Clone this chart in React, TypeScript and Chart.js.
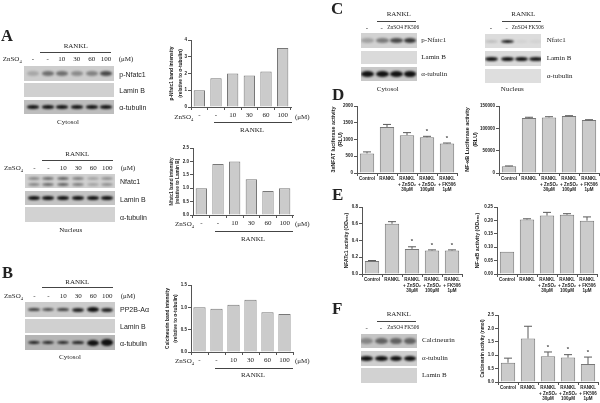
import React, { useEffect, useRef } from "react";
import { Chart, registerables } from "chart.js";

Chart.register(...registerables);

const doseLabels = ["-", "-", "10", "30", "60", "100"];
const treatLabels = [
  ["Control"],
  ["RANKL"],
  ["RANKL", "+ ZnSO\u2082", "30\u03BCM"],
  ["RANKL", "+ ZnSO\u2082", "100\u03BCM"],
  ["RANKL", "+ FK506", "1\u03BCM"],
];

const pNfatcValues = [1.0, 1.72, 2.0, 1.88, 2.12, 3.52];
const nfatcValues = [1.0, 1.9, 2.0, 1.33, 0.9, 1.0];
const calcBandValues = [1.0, 0.97, 1.06, 1.17, 0.89, 0.85];

const nfatLucValues = [585, 1375, 1130, 1065, 880];
const nfatLucErr = [45, 75, 75, 30, 15];
const nfatLucStars = [false, false, false, true, true];

const nfkbLucValues = [15000, 123000, 124500, 127500, 118500];
const nfkbLucErr = [800, 1800, 1500, 800, 800];

const nfatcActValues = [0.155, 0.6, 0.3, 0.28, 0.28];
const nfatcActErr = [0.006, 0.025, 0.025, 0.008, 0.008];
const nfatcActStars = [false, false, true, true, true];

const nfkbActValues = [0.083, 0.203, 0.218, 0.221, 0.199];
const nfkbActErr = [0, 0.003, 0.012, 0.004, 0.014];

const calcActValues = [0.72, 1.62, 0.96, 0.91, 0.67];
const calcActErr = [0.17, 0.46, 0.16, 0.11, 0.26];
const calcActStars = [false, false, true, true, true];

const SANS = "'Liberation Sans', Arial, sans-serif";
const SERIF = "'Liberation Serif', 'Times New Roman', serif";

type Spec = {
  left: number; top: number; w: number; h: number; margin: number;
  labels: any[]; values: number[]; err?: number[]; stars?: boolean[];
  max: number; step: number; decimals: number;
  title: string | string[]; titleSize: number; titleLH: number; barFrac: number; serifX?: boolean;
};

const specs: Spec[] = [
  { left: 191, top: 40, w: 100, h: 67, margin: 23, labels: doseLabels, values: pNfatcValues, max: 4, step: 1, decimals: 0, title: ["p-Nfatc1 band intensity", "(relative to \u03B1-tubulin)"], titleSize: 4.9, titleLH: 8.3, barFrac: 0.68, serifX: true },
  { left: 193, top: 148, w: 100, h: 67, margin: 25, labels: doseLabels, values: nfatcValues, max: 2.5, step: 0.5, decimals: 1, title: ["Nfatc1 band intensity", "(relative to Lamin B)"], titleSize: 4.75, titleLH: 6.7, barFrac: 0.68, serifX: true },
  { left: 191, top: 285, w: 102, h: 67, margin: 27, labels: doseLabels, values: calcBandValues, max: 1.5, step: 0.5, decimals: 1, title: ["Calcineurin band intensity", "(relative to \u03B1-tubulin)"], titleSize: 4.87, titleLH: 7.7, barFrac: 0.72, serifX: true },
  { left: 357, top: 106, w: 100, h: 67, margin: 27, labels: treatLabels, values: nfatLucValues, err: nfatLucErr, stars: nfatLucStars, max: 2000, step: 500, decimals: 0, title: ["3xNFAT luciferase activity", "(RLU)"], titleSize: 5.36, titleLH: 7, barFrac: 0.72 },
  { left: 499, top: 106, w: 100, h: 67, margin: 35, labels: treatLabels, values: nfkbLucValues, err: nfkbLucErr, max: 150000, step: 50000, decimals: 0, title: ["NF-\u03BAB Luciferase activity", "(RLU)"], titleSize: 5.4, titleLH: 7.7, barFrac: 0.72 },
  { left: 362, top: 207, w: 100, h: 67, margin: 19, labels: treatLabels, values: nfatcActValues, err: nfatcActErr, stars: nfatcActStars, max: 0.8, step: 0.2, decimals: 1, title: "NFATc1 activity (OD\u2086\u2085\u2080)", titleSize: 5, titleLH: 6.5, barFrac: 0.72 },
  { left: 497, top: 207, w: 100, h: 67, margin: 23, labels: treatLabels, values: nfkbActValues, err: nfkbActErr, max: 0.25, step: 0.05, decimals: 2, title: "NF-\u03BAB activity (OD\u2086\u2085\u2080)", titleSize: 5.3, titleLH: 6.5, barFrac: 0.72 },
  { left: 498, top: 315, w: 100, h: 67, margin: 19, labels: treatLabels, values: calcActValues, err: calcActErr, stars: calcActStars, max: 2.5, step: 0.5, decimals: 1, title: "Calcineurin activity (nmol)", titleSize: 4.65, titleLH: 6.5, barFrac: 0.72 },
];

const PAD_TOP = 6;
const PAD_RIGHT = 2;
const BOTTOM = 30;

const whiskers = {
  id: "whiskers",
  afterDatasetsDraw(chart: any, _a: any, opts: any) {
    const { ctx } = chart;
    const y = chart.scales.y;
    const meta = chart.getDatasetMeta(0);
    const vals: number[] = chart.data.datasets[0].data;
    ctx.save();
    meta.data.forEach((bar: any, i: number) => {
      const e = opts.err ? opts.err[i] : 0;
      const topVal = vals[i] + e;
      const py = y.getPixelForValue(topVal);
      if (e) {
        ctx.strokeStyle = "#5a5a5a";
        ctx.lineWidth = 1;
        ctx.beginPath();
        ctx.moveTo(bar.x, y.getPixelForValue(vals[i]));
        ctx.lineTo(bar.x, py);
        ctx.moveTo(bar.x - 4, py);
        ctx.lineTo(bar.x + 4, py);
        ctx.stroke();
      }
      if (opts.stars && opts.stars[i]) {
        ctx.fillStyle = "#444";
        ctx.font = `bold 6px ${SANS}`;
        ctx.textAlign = "center";
        ctx.textBaseline = "middle";
        ctx.fillText("*", bar.x, py - 5);
      }
    });
    ctx.restore();
  },
};

function BarPanel({ s }: { s: Spec }) {
  const ref = useRef<HTMLCanvasElement>(null);
  useEffect(() => {
    const chart = new Chart(ref.current!, {
      type: "bar",
      data: {
        labels: s.labels,
        datasets: [{
          data: s.values,
          backgroundColor: "#cbcbcb",
          borderColor: "#777",
          borderWidth: 1,
          categoryPercentage: 1,
          barPercentage: s.barFrac,
        }],
      },
      plugins: [whiskers],
      options: {
        animation: false,
        responsive: false,
        layout: { padding: { top: PAD_TOP, right: PAD_RIGHT, left: 0, bottom: 0 } },
        plugins: {
          legend: { display: false },
          tooltip: { enabled: false },
          whiskers: { err: s.err, stars: s.stars },
        } as any,
        scales: {
          x: {
            afterFit: (sc: any) => { sc.height = BOTTOM; },
            border: { color: "#555", width: 1 },
            grid: { drawOnChartArea: false, drawTicks: true, tickLength: 3, color: "#555" },
            ticks: s.serifX
              ? { color: "#222", font: { family: SERIF, size: 7 }, padding: 1, autoSkip: false, maxRotation: 0 }
              : { color: "#222", font: { family: SANS, size: 4.5, weight: "bold", lineHeight: "5.7px" }, padding: 0, autoSkip: false, maxRotation: 0 },
          },
          y: {
            min: 0,
            max: s.max,
            afterFit: (sc: any) => { sc.width = s.margin; },
            border: { color: "#555", width: 1 },
            grid: { drawOnChartArea: false, drawTicks: true, tickLength: 3, color: "#555" },
            ticks: {
              stepSize: s.step,
              color: "#222",
              padding: 1,
              font: { family: SANS, size: 4.5, weight: "bold" },
              callback: (v: any) => Number(v).toFixed(s.decimals),
            },
            title: {
              display: true,
              text: s.title,
              color: "#222",
              padding: 0,
              font: { family: SANS, size: s.titleSize, weight: "bold", lineHeight: `${s.titleLH}px` },
            },
          },
        },
      } as any,
    });
    return () => chart.destroy();
  }, [s]);
  return (
    <canvas
      ref={ref}
      width={s.margin + s.w + PAD_RIGHT}
      height={PAD_TOP + s.h + BOTTOM}
      style={{ position: "absolute", left: s.left - s.margin, top: s.top - PAD_TOP, display: "block" }}
    />
  );
}

type Txt = [string, number, number, "l" | "c", number?, string?, string?];

// [text, x, centre y, anchor, size, family, weight]
const texts: Txt[] = [
  ["A", 1, 35.5, "l", 16.5, SERIF, "bold"], ["B", 2, 272.5, "l", 16.5, SERIF, "bold"],
  ["C", 331, 7.5, "l", 17, SERIF, "bold"], ["D", 332, 93.5, "l", 17, SERIF, "bold"],
  ["E", 332, 193.5, "l", 17, SERIF, "bold"], ["F", 332, 307.5, "l", 17, SERIF, "bold"],
  ["RANKL", 75.7, 46, "c"], ["(\u03BCM)", 118.7, 59.3, "l"],
  ["p-Nfatc1", 119.3, 73.7, "l", 7, SANS], ["Lamin B", 119.3, 90.3, "l", 7, SANS], ["\u03B1-tubulin", 119.3, 107, "l", 7, SANS],
  ["Cytosol", 68, 121.7, "c"], ["RANKL", 252, 130, "c"], ["(\u03BCM)", 295, 116.7, "l"],
  ["RANKL", 77.3, 154, "c"], ["(\u03BCM)", 120.7, 168.3, "l"],
  ["Nfatc1", 120, 181, "l", 7, SANS], ["Lamin B", 120, 198.7, "l", 7, SANS], ["\u03B1-tubulin", 120, 216.7, "l", 7, SANS],
  ["Nucleus", 70.7, 229.7, "c"], ["RANKL", 253, 238.7, "c"], ["(\u03BCM)", 295, 224.3, "l"],
  ["RANKL", 77.3, 282, "c"], ["(\u03BCM)", 120.7, 296, "l"],
  ["PP2B-A\u03B1", 120, 309, "l", 7, SANS], ["Lamin B", 120, 326, "l", 7, SANS], ["\u03B1-tubulin", 120, 343, "l", 7, SANS],
  ["Cytosol", 70, 357.3, "c"], ["RANKL", 253, 375, "c"], ["(\u03BCM)", 295, 361.3, "l"],
  ["RANKL", 398.7, 13.7, "c"], ["ZnSO4 FK506", 387.3, 27.7, "l", 5.4],
  ["p-Nfatc1", 421.3, 40.3, "l"], ["Lamin B", 421.3, 57.3, "l"], ["\u03B1-tubulin", 421.3, 74.3, "l"], ["Cytosol", 387.7, 89.3, "c"],
  ["RANKL", 523.3, 13.7, "c"], ["ZnSO4 FK506", 511.7, 27.7, "l", 5.4],
  ["Nfatc1", 546.7, 40, "l"], ["Lamin B", 546.7, 58, "l"], ["\u03B1-tubulin", 546.7, 76, "l"], ["Nucleus", 512.3, 89.3, "c"],
  ["RANKL", 398.7, 314.3, "c"], ["ZnSO4 FK506", 387.3, 328.3, "l", 5.4],
  ["Calcineurin", 422, 340.3, "l"], ["\u03B1-tubulin", 422, 358, "l"], ["Lamin B", 422, 375.3, "l"],
  ["-", 367, 27.7, "c"], ["-", 381.7, 27.7, "c"], ["-", 491, 27.7, "c"], ["-", 506.7, 27.7, "c"],
  ["-", 366.7, 328.3, "c"], ["-", 381, 328.3, "c"],
];

const doseRows: [number[], number][] = [
  [[33, 47.7, 61.7, 76.7, 91.7, 106], 59.3],
  [[34.3, 48.3, 63.3, 78.3, 93.3, 107.3], 168.3],
  [[34.3, 48.3, 63.3, 78.3, 93.3, 107.3], 296],
];

const znso4Labels: [number, number][] = [[2.7, 59.3], [4, 168.3], [4, 296], [174.3, 116.7], [175, 224.3], [175, 361.3]];

const rules: [number, number, number][] = [
  [40, 111, 51.7], [41.7, 112.7, 159.7], [41.7, 112.7, 287.3],
  [214, 291.7, 122.3], [215.3, 292.7, 231], [215, 292.7, 367.7],
  [377.3, 416, 20.7], [502, 540.7, 20.7], [377.3, 415.7, 321],
];

type Strip = { x: number; w: number; y: number; h: number; bg: string; lanes: number[]; bands: number[]; bh?: number | number[]; rows?: number[] };

const lanesA = [33, 47.7, 61.7, 76.7, 91.7, 106];
const lanesB = [34.3, 48.3, 63.3, 78.3, 93.3, 107.3];
const lanesC = [367.3, 382.3, 396.7, 410];
const lanesCR = [491.7, 507.3, 521.7, 536];
const lanesF = [366.7, 381.7, 396, 410];

const strips: Strip[] = [
  { x: 24, w: 90, y: 66, h: 15, bg: "#cdcdcd", lanes: lanesA, bands: [0.2, 0.5, 0.5, 0.35, 0.4, 0.7], bh: 4.5 },
  { x: 24, w: 90, y: 83, h: 14, bg: "#d0d0d0", lanes: [], bands: [] },
  { x: 24, w: 90, y: 100, h: 14, bg: "#bdbdbd", lanes: lanesA, bands: [1, 1, 1, 1, 1, 1], bh: 3.5 },
  { x: 25, w: 90, y: 174, h: 14, bg: "#d0d0d0", lanes: lanesB, bands: [0.4, 0.55, 0.6, 0.45, 0.25, 0.35], bh: 3, rows: [-3, 3] },
  { x: 25, w: 90, y: 191, h: 14, bg: "#c4c4c4", lanes: lanesB, bands: [1, 1, 1, 1, 1, 1], bh: 3.5 },
  { x: 25, w: 90, y: 207, h: 15, bg: "#d2d2d2", lanes: [], bands: [] },
  { x: 25, w: 90, y: 302, h: 15, bg: "#cbcbcb", lanes: lanesB, bands: [0.75, 0.7, 0.75, 0.9, 1, 0.9], bh: [3.5, 3, 3.5, 4, 4.5, 4] },
  { x: 25, w: 90, y: 319, h: 14, bg: "#d0d0d0", lanes: [], bands: [] },
  { x: 25, w: 90, y: 335, h: 15, bg: "#b5b5b5", lanes: lanesB, bands: [0.95, 0.9, 0.9, 0.9, 1, 1], bh: [3, 3, 3, 3.5, 6, 6.5] },
  { x: 361, w: 56, y: 33, h: 15, bg: "#d2d2d2", lanes: lanesC, bands: [0.25, 0.45, 0.7, 0.8], bh: 4.5 },
  { x: 361, w: 56, y: 51, h: 13, bg: "#dadada", lanes: [], bands: [] },
  { x: 361, w: 56, y: 67, h: 14, bg: "#c8c8c8", lanes: lanesC, bands: [1, 1, 1, 1], bh: 6 },
  { x: 485, w: 56, y: 34, h: 14, bg: "#dcdcdc", lanes: lanesCR, bands: [0.15, 1, 0.05, 0.05], bh: 3 },
  { x: 485, w: 56, y: 51, h: 15, bg: "#dadada", lanes: lanesCR, bands: [1, 1, 1, 0.95], bh: 4 },
  { x: 485, w: 56, y: 69, h: 14, bg: "#dedede", lanes: [], bands: [] },
  { x: 361, w: 56, y: 334, h: 14, bg: "#c4c4c4", lanes: lanesF, bands: [0.35, 0.55, 0.55, 0.55], bh: 6 },
  { x: 361, w: 56, y: 351, h: 15, bg: "#cfcfcf", lanes: lanesF, bands: [1, 1, 1, 1], bh: 5 },
  { x: 361, w: 56, y: 368, h: 15, bg: "#d2d2d2", lanes: [], bands: [] },
];

function T({ t }: { t: Txt }) {
  const [text, x, y, a, size = 7, fam = SERIF, weight = "normal"] = t;
  return (
    <div style={{
      position: "absolute", left: x, top: y, whiteSpace: "nowrap", color: "#222",
      fontFamily: fam, fontSize: size, fontWeight: weight as any, lineHeight: 1,
      transform: a === "c" ? "translate(-50%, -50%)" : "translateY(-50%)",
    }}>{text}</div>
  );
}

function BlotStrip({ s }: { s: Strip }) {
  const spacing = s.lanes.length > 1 ? s.lanes[1] - s.lanes[0] : 14;
  const rows = s.rows ?? [0];
  return (
    <div style={{ position: "absolute", left: s.x, top: s.y, width: s.w, height: s.h, background: s.bg, overflow: "hidden" }}>
      {rows.map((dy, r) => s.lanes.map((lx, i) => {
        const bh = Array.isArray(s.bh) ? s.bh[i] : s.bh ?? 4;
        return (
          <div key={`${r}-${i}`} style={{
            position: "absolute",
            left: lx - s.x - spacing * 0.42,
            top: (s.h - bh) / 2 + dy,
            width: spacing * 0.84,
            height: bh,
            borderRadius: "50%",
            background: "#111",
            opacity: s.bands[i],
            filter: "blur(0.8px)",
          }} />
        );
      }))}
    </div>
  );
}

export default function App() {
  useEffect(() => {
    document.body.style.margin = "0";
    document.body.style.background = "#fff";
  }, []);
  return (
    <div style={{ position: "relative", width: 600, height: 403, overflow: "hidden", background: "#fff", filter: "grayscale(1) blur(0.3px)" }}>
      {strips.map((s, i) => <BlotStrip key={i} s={s} />)}
      {specs.map((s, i) => <BarPanel key={i} s={s} />)}
      {rules.map(([a, b, y], i) => (
        <div key={i} style={{ position: "absolute", left: a, width: b - a, top: y, height: 1, background: "#444" }} />
      ))}
      {doseRows.map(([xs, y], r) => xs.map((x, i) => (
        <T key={`${r}-${i}`} t={[doseLabels[i], x, y, "c"]} />
      )))}
      {znso4Labels.map(([x, y], i) => (
        <div key={i} style={{ position: "absolute", left: x, top: y, transform: "translateY(-50%)", fontFamily: SERIF, fontSize: 7, lineHeight: 1, color: "#222", whiteSpace: "nowrap" }}>
          ZnSO<sub style={{ fontSize: 4.5, lineHeight: 0 }}>4</sub>
        </div>
      ))}
      {texts.map((t, i) => <T key={i} t={t} />)}
    </div>
  );
}
